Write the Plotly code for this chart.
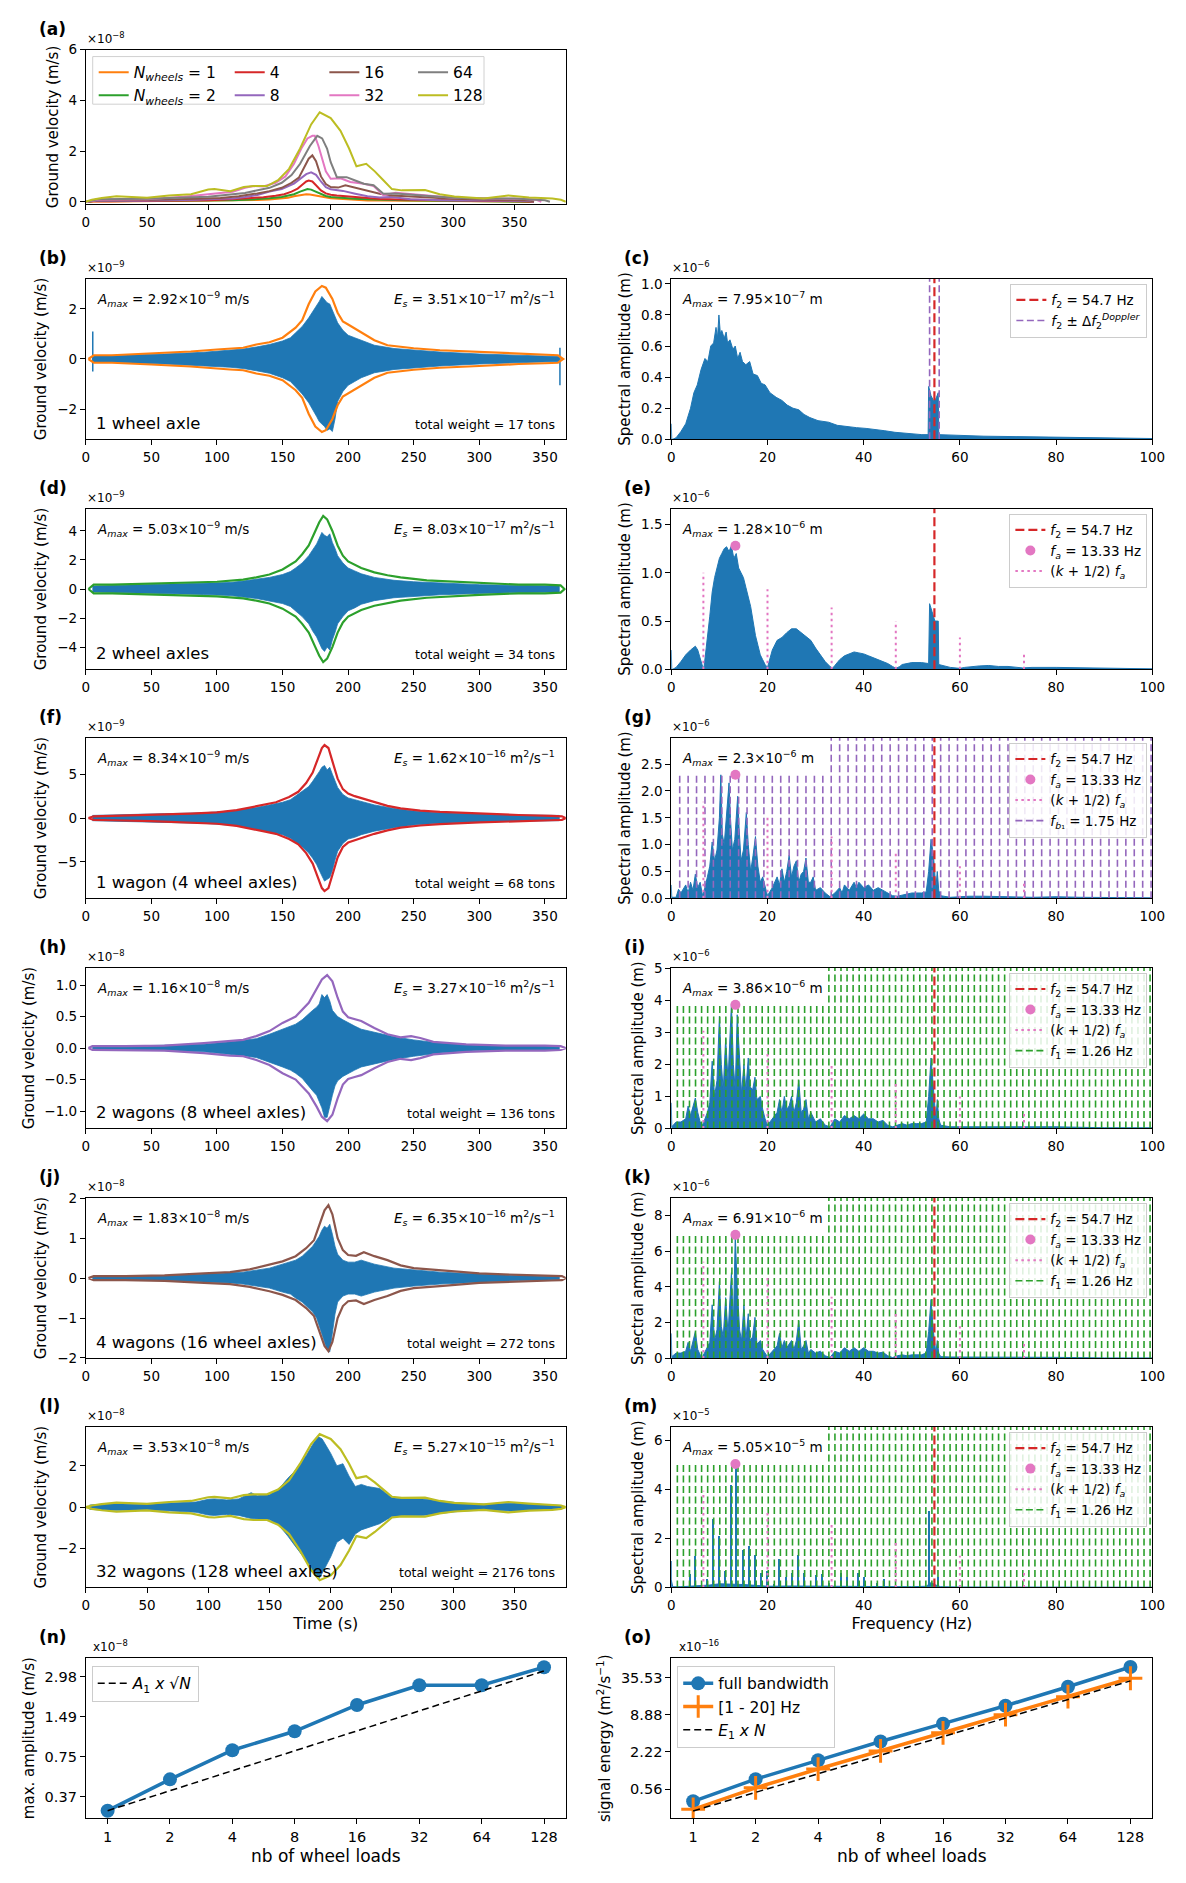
import math
import plotly.graph_objects as go

W, H = 1186, 1883
FONT = "DejaVu Sans"
BLUE = "#1f77b4"; ORANGE = "#ff7f0e"; GREEN = "#2ca02c"; RED = "#d62728"
PURPLE = "#9467bd"; BROWN = "#8c564b"; PINK = "#e377c2"; GRAY = "#7f7f7f"; OLIVE = "#bcbd22"

# ====================== DATA ======================
n_wheels = [1, 2, 4, 8, 16, 32, 64, 128]
n_tick_text = ["1", "2", "4", "8", "16", "32", "64", "128"]

# envelopes (units 1e-8 m/s)
env_t_1 = [2, 6, 20, 50, 80, 100, 110, 120, 130, 140, 150, 160, 165, 170, 175, 180, 183, 188, 192, 196, 200, 210, 220, 230, 240, 250, 270, 300, 330, 350, 360, 364]
env_v_1 = [0, 0.015, 0.015, 0.022, 0.03, 0.038, 0.042, 0.045, 0.058, 0.067, 0.085, 0.125, 0.155, 0.22, 0.27, 0.292, 0.285, 0.24, 0.185, 0.15, 0.138, 0.105, 0.075, 0.055, 0.048, 0.043, 0.035, 0.028, 0.02, 0.017, 0.015, 0]
env_t_2 = [2, 6, 20, 50, 80, 100, 120, 130, 140, 150, 160, 165, 170, 175, 178, 181, 184, 188, 192, 196, 200, 210, 220, 230, 240, 260, 280, 300, 330, 350, 362, 365]
env_v_2 = [0, 0.03, 0.03, 0.035, 0.045, 0.05, 0.065, 0.08, 0.1, 0.135, 0.19, 0.24, 0.3, 0.4, 0.46, 0.503, 0.48, 0.4, 0.3, 0.23, 0.19, 0.145, 0.115, 0.095, 0.08, 0.06, 0.05, 0.04, 0.03, 0.03, 0.025, 0]
env_t_4 = [2, 6, 20, 50, 80, 100, 115, 125, 135, 145, 155, 162, 168, 173, 177, 180, 182, 185, 188, 192, 196, 200, 205, 212, 220, 230, 240, 255, 270, 300, 330, 355, 363, 366]
env_v_4 = [0, 0.02, 0.025, 0.035, 0.05, 0.065, 0.09, 0.12, 0.15, 0.18, 0.24, 0.3, 0.4, 0.52, 0.68, 0.8, 0.834, 0.8, 0.65, 0.45, 0.33, 0.28, 0.25, 0.22, 0.18, 0.14, 0.11, 0.085, 0.07, 0.05, 0.035, 0.025, 0.02, 0]
env_t_8 = [2, 5, 30, 60, 90, 110, 120, 130, 140, 150, 160, 170, 176, 180, 184, 188, 192, 196, 200, 205, 210, 220, 230, 240, 248, 255, 265, 290, 320, 350, 362, 366]
env_v_8 = [0, 0.03, 0.03, 0.04, 0.08, 0.12, 0.13, 0.19, 0.27, 0.4, 0.5, 0.72, 0.93, 1.09, 1.16, 1.06, 0.8, 0.58, 0.49, 0.46, 0.43, 0.32, 0.22, 0.17, 0.19, 0.16, 0.1, 0.06, 0.04, 0.04, 0.03, 0]
env_t_16 = [2, 6, 30, 60, 90, 110, 125, 140, 150, 160, 168, 174, 178, 182, 185, 188, 192, 196, 200, 206, 212, 220, 230, 240, 250, 270, 300, 330, 355, 363, 366]
env_v_16 = [0, 0.05, 0.05, 0.07, 0.12, 0.15, 0.22, 0.33, 0.42, 0.55, 0.75, 0.95, 1.3, 1.7, 1.83, 1.6, 1.0, 0.7, 0.58, 0.56, 0.65, 0.55, 0.45, 0.32, 0.25, 0.2, 0.12, 0.08, 0.06, 0.05, 0]
env_t_32 = [0, 10, 50, 80, 100, 120, 130, 137, 145, 155, 163, 170, 176, 181, 185, 187, 190, 193, 196, 200, 208, 216, 227, 235, 243, 253, 267, 280, 300, 330, 355, 368, 372]
env_v_32 = [0, 0.08, 0.1, 0.2, 0.3, 0.4, 0.55, 0.62, 0.6, 0.75, 1.0, 1.5, 2.1, 2.5, 2.6, 2.6, 2.2, 1.7, 1.2, 0.91, 0.93, 0.78, 0.71, 0.62, 0.26, 0.36, 0.3, 0.22, 0.16, 0.13, 0.12, 0.08, 0]
env_t_64 = [0, 10, 50, 100, 130, 150, 160, 168, 175, 183, 189, 193, 197, 200, 205, 213, 220, 227, 235, 243, 253, 267, 280, 300, 323, 350, 365, 375, 379]
env_v_64 = [0, 0.1, 0.12, 0.2, 0.35, 0.55, 0.75, 1.05, 1.5, 2.2, 2.6, 2.5, 2.1, 1.56, 0.97, 0.97, 0.84, 0.71, 0.65, 0.32, 0.33, 0.29, 0.23, 0.16, 0.13, 0.13, 0.1, 0.06, 0]
env_t_128 = [0, 5, 13, 25, 50, 68, 86, 100, 105, 118, 129, 137, 148, 157, 166, 175, 184, 191, 200, 208, 215, 221, 229, 236, 243, 250, 258, 277, 289, 301, 325, 345, 362, 381, 388, 392]
env_v_128 = [0, 0.08, 0.15, 0.22, 0.16, 0.25, 0.3, 0.48, 0.5, 0.42, 0.58, 0.62, 0.62, 0.85, 1.3, 2.1, 3.05, 3.53, 3.3, 2.8, 2.1, 1.4, 1.5, 1.2, 0.85, 0.5, 0.45, 0.46, 0.3, 0.21, 0.13, 0.25, 0.17, 0.13, 0.08, 0]

# blue signal extents (time panels)
sig_t = [5, 15, 30, 60, 90, 110, 120, 130, 140, 150, 156, 160, 165, 170, 173, 176, 178, 180, 182, 184, 186, 188, 190, 192, 196, 200, 205, 210, 220, 235, 250, 270, 300, 330, 361]
b_top = [0.12, 0.13, 0.15, 0.2, 0.27, 0.35, 0.4, 0.48, 0.58, 0.72, 0.85, 1.05, 1.3, 1.65, 1.9, 2.1, 2.3, 2.5, 2.35, 2.25, 2.2, 1.95, 1.7, 1.45, 1.15, 0.95, 0.85, 0.75, 0.55, 0.42, 0.35, 0.28, 0.2, 0.15, 0.1]
b_bot = [-0.12, -0.13, -0.15, -0.2, -0.27, -0.33, -0.38, -0.47, -0.57, -0.75, -0.9, -1.1, -1.4, -1.75, -2.0, -2.3, -2.5, -2.6, -2.7, -2.85, -2.8, -2.9, -2.4, -1.7, -1.3, -1.05, -0.9, -0.75, -0.55, -0.42, -0.35, -0.28, -0.2, -0.15, -0.1]
d_top = [0.2, 0.22, 0.25, 0.3, 0.38, 0.45, 0.55, 0.65, 0.8, 1.0, 1.2, 1.45, 1.8, 2.3, 2.7, 3.1, 3.5, 3.9, 3.7, 3.6, 3.8, 3.2, 2.8, 2.3, 1.8, 1.45, 1.25, 1.05, 0.8, 0.6, 0.5, 0.4, 0.3, 0.25, 0.2]
d_bot = [-0.2, -0.22, -0.25, -0.3, -0.38, -0.45, -0.55, -0.65, -0.8, -1.0, -1.2, -1.5, -1.9, -2.4, -2.9, -3.3, -3.7, -4.1, -4.3, -4.0, -4.2, -3.5, -3.0, -2.4, -1.9, -1.5, -1.3, -1.05, -0.8, -0.6, -0.5, -0.4, -0.3, -0.25, -0.2]
f_top = [0.3, 0.35, 0.4, 0.5, 0.6, 0.8, 1.0, 1.2, 1.5, 1.8, 2.1, 2.5, 3.0, 3.6, 4.2, 4.8, 5.3, 5.8, 6.0, 5.5, 5.8, 5.0, 4.2, 3.5, 2.7, 2.3, 2.1, 1.9, 1.5, 1.1, 0.8, 0.6, 0.45, 0.35, 0.3]
f_bot = [-0.3, -0.35, -0.4, -0.5, -0.6, -0.8, -1.0, -1.3, -1.6, -1.9, -2.3, -2.7, -3.3, -4.0, -4.6, -5.3, -6.0, -6.6, -7.2, -7.0, -6.8, -6.0, -4.8, -3.8, -2.9, -2.4, -2.2, -1.9, -1.5, -1.1, -0.8, -0.6, -0.45, -0.35, -0.3]
h_top = [0.02, 0.025, 0.03, 0.04, 0.06, 0.1, 0.12, 0.15, 0.22, 0.3, 0.35, 0.38, 0.45, 0.55, 0.6, 0.65, 0.7, 0.85, 0.8, 0.85, 0.75, 0.6, 0.55, 0.5, 0.45, 0.4, 0.35, 0.3, 0.25, 0.18, 0.13, 0.08, 0.04, 0.03, 0.03]
h_bot = [-0.02, -0.025, -0.03, -0.04, -0.06, -0.1, -0.12, -0.15, -0.22, -0.3, -0.35, -0.4, -0.48, -0.6, -0.68, -0.75, -0.85, -0.95, -1.1, -1.1, -0.95, -0.75, -0.6, -0.52, -0.45, -0.4, -0.35, -0.3, -0.25, -0.18, -0.13, -0.08, -0.04, -0.03, -0.03]
j_top = [0.03, 0.04, 0.05, 0.06, 0.1, 0.12, 0.15, 0.2, 0.25, 0.35, 0.4, 0.45, 0.55, 0.7, 0.8, 0.95, 1.05, 1.2, 1.3, 1.25, 1.35, 1.1, 0.8, 0.6, 0.45, 0.4, 0.4, 0.45, 0.35, 0.25, 0.2, 0.15, 0.1, 0.06, 0.04]
j_bot = [-0.03, -0.04, -0.05, -0.06, -0.1, -0.12, -0.15, -0.2, -0.25, -0.35, -0.4, -0.5, -0.6, -0.75, -0.85, -1.0, -1.2, -1.4, -1.6, -1.8, -1.85, -1.4, -0.9, -0.6, -0.45, -0.4, -0.4, -0.45, -0.35, -0.25, -0.2, -0.15, -0.1, -0.06, -0.04]
sig_t_l = [3, 15, 30, 50, 70, 90, 100, 105, 115, 125, 135, 140, 150, 158, 165, 170, 175, 180, 184, 187, 190, 193, 196, 200, 205, 210, 215, 220, 225, 230, 240, 250, 260, 275, 290, 305, 320, 335, 350, 365, 380, 389]
l_top = [0.1, 0.15, 0.15, 0.13, 0.2, 0.25, 0.38, 0.4, 0.35, 0.4, 0.7, 0.55, 0.6, 0.9, 1.4, 1.7, 2.1, 2.5, 2.9, 3.2, 3.4, 3.3, 3.0, 2.6, 2.0, 2.1, 1.5, 1.0, 1.1, 1.0, 0.9, 0.45, 0.4, 0.4, 0.3, 0.2, 0.15, 0.15, 0.2, 0.15, 0.1, 0.08]
l_bot = [-0.1, -0.15, -0.15, -0.13, -0.2, -0.25, -0.38, -0.4, -0.35, -0.4, -0.55, -0.55, -0.6, -0.9, -1.4, -1.8, -2.2, -2.6, -2.9, -3.3, -3.5, -3.2, -2.9, -2.4, -1.7, -1.5, -1.8, -1.3, -1.1, -1.0, -0.8, -0.45, -0.4, -0.4, -0.3, -0.2, -0.15, -0.15, -0.2, -0.15, -0.1, -0.08]
b_spike_t = [5.3, 361.5]
b_spike_top = [1.1, 0.45]
b_spike_bot = [-0.5, -1.05]

# spectra (units of each panel's exponent)
c_f = [0, 0.1, 0.3, 1.0, 2.0, 3.0, 4.0, 4.7, 5.4, 6.2, 7.0, 7.6, 8.2, 8.8, 9.3, 9.6, 9.9, 10.2, 10.5, 11.0, 11.4, 11.7, 12.2, 12.8, 13.3, 13.8, 14.3, 14.8, 15.5, 16.3, 17.0, 17.9, 18.7, 19.5, 20.5, 21.8, 23.0, 24.1, 25.3, 26.5, 27.6, 28.8, 30.5, 32.7, 34.5, 36.6, 38.5, 40.5, 42.5, 44.4, 46.5, 48.2, 50.0, 52.1, 53.4, 53.5, 54.0, 54.5, 55.0, 55.5, 55.6, 57.0, 60.0, 65.0, 70.0, 75.0, 80.0, 85.0, 90.0, 95.0, 100.0]
c_a = [0.1, 0.0, 0.0, 0.01, 0.05, 0.1, 0.2, 0.3, 0.35, 0.45, 0.52, 0.5, 0.6, 0.62, 0.72, 0.65, 0.8, 0.68, 0.7, 0.65, 0.69, 0.62, 0.64, 0.58, 0.6, 0.52, 0.56, 0.5, 0.48, 0.5, 0.42, 0.41, 0.36, 0.35, 0.3, 0.27, 0.25, 0.22, 0.2, 0.19, 0.16, 0.14, 0.12, 0.11, 0.09, 0.08, 0.075, 0.07, 0.06, 0.055, 0.045, 0.04, 0.035, 0.03, 0.03, 0.34, 0.28, 0.25, 0.26, 0.3, 0.03, 0.028, 0.025, 0.02, 0.018, 0.015, 0.013, 0.01, 0.008, 0.007, 0.005]
e_f = [0, 0.1, 0.3, 1, 2, 3, 4, 4.5, 5, 5.5, 6, 6.5, 6.8, 7.5, 8, 8.5, 9, 9.5, 10, 10.5, 11, 11.5, 12, 12.5, 13, 13.5, 14, 14.5, 15, 15.5, 16, 16.5, 17, 17.5, 18, 18.5, 19, 19.5, 20, 21, 22, 23, 24, 25, 26, 27, 28, 29, 30, 31, 32, 33, 33.5, 34, 35, 36, 37, 38, 39, 40, 41, 42, 43, 44, 45, 46, 46.7, 47.5, 48, 50, 52, 53.5, 53.7, 54.2, 54.8, 55.3, 55.5, 55.6, 57, 58, 60, 61, 64, 66, 68, 70, 73, 75, 80, 85, 90, 100]
e_a = [0.2, 0.0, 0.0, 0.02, 0.08, 0.15, 0.2, 0.22, 0.24, 0.2, 0.12, 0.03, 0.02, 0.3, 0.55, 0.8, 0.95, 1.05, 1.15, 1.2, 1.25, 1.27, 1.22, 1.28, 1.15, 1.2, 1.05, 1.0, 0.95, 0.85, 0.75, 0.65, 0.5, 0.35, 0.25, 0.15, 0.1, 0.05, 0.02, 0.2, 0.3, 0.33, 0.38, 0.42, 0.42, 0.38, 0.35, 0.3, 0.22, 0.15, 0.08, 0.03, 0.01, 0.04, 0.1, 0.14, 0.16, 0.18, 0.17, 0.16, 0.14, 0.12, 0.1, 0.08, 0.06, 0.03, 0.01, 0.03, 0.05, 0.07, 0.07, 0.06, 0.68, 0.6, 0.5, 0.5, 0.5, 0.05, 0.03, 0.02, 0.01, 0.02, 0.035, 0.04, 0.03, 0.03, 0.015, 0.02, 0.02, 0.015, 0.01, 0.005]
g_f = [0, 0.1, 1, 1.5, 2, 3, 3.5, 4, 4.5, 5, 5.5, 6, 6.5, 7, 7.5, 8, 8.5, 9, 9.5, 10, 10.3, 10.6, 11, 11.5, 12, 12.3, 12.7, 13.2, 13.8, 14.1, 14.5, 15, 15.6, 16, 16.5, 17, 17.5, 18, 18.5, 19, 19.5, 20, 21, 22, 22.5, 23, 23.5, 24, 24.5, 25, 25.5, 26, 26.5, 27, 27.5, 28, 28.5, 29, 29.5, 30, 31, 32, 33, 34, 35, 35.5, 36, 37, 38, 38.5, 39, 40, 41, 42, 43, 44, 45, 46, 47, 48, 49, 50, 51, 52, 53, 53.5, 54, 54.5, 55, 55.3, 55.6, 56, 58, 60, 62, 65, 68, 70, 75, 80, 85, 90, 100]
g_a = [0.25, 0.02, 0.02, 0.17, 0.1, 0.25, 0.1, 0.3, 0.15, 0.45, 0.2, 0.3, 0.05, 0.2, 0.4, 0.6, 1.05, 0.7, 0.9, 1.5, 2.3, 1.2, 1.0, 1.5, 2.15, 1.5, 0.9, 1.1, 1.9, 1.3, 0.7, 0.9, 1.6, 1.0, 0.5, 0.8, 1.15, 0.6, 0.3, 0.4, 0.2, 0.05, 0.2, 0.4, 0.25, 0.55, 0.3, 0.5, 0.8, 0.4, 0.6, 0.7, 0.3, 0.45, 0.5, 0.75, 0.3, 0.3, 0.4, 0.15, 0.2, 0.1, 0.03, 0.1, 0.2, 0.1, 0.25, 0.15, 0.3, 0.2, 0.3, 0.2, 0.25, 0.15, 0.2, 0.15, 0.1, 0.05, 0.04, 0.06, 0.08, 0.1, 0.1, 0.1, 0.12, 0.5, 1.1, 0.8, 0.2, 0.5, 0.15, 0.05, 0.02, 0.03, 0.04, 0.04, 0.04, 0.03, 0.02, 0.03, 0.02, 0.015, 0.01]
i_f = [0, 0.1, 1, 2, 3, 3.5, 4, 5, 5.5, 6, 6.5, 7, 7.5, 8, 8.5, 9, 9.5, 10, 10.4, 10.8, 11.3, 11.8, 12.5, 12.9, 13.3, 13.7, 14.2, 14.6, 15.1, 15.5, 16, 16.4, 16.9, 17.4, 17.8, 18.5, 19, 19.5, 20, 21, 22, 22.5, 23, 23.5, 24, 24.5, 25, 25.5, 26, 26.5, 27, 27.5, 28, 28.5, 29, 30, 31, 32, 33, 34, 35, 36, 37, 38, 39, 40, 41, 42, 43, 44, 45, 46, 47, 48, 49, 50, 51, 52, 53, 53.5, 54, 54.5, 55, 55.3, 55.6, 56, 58, 60, 65, 70, 80, 90, 100]
i_a = [0.8, 0.05, 0.2, 0.2, 0.3, 0.7, 0.4, 0.95, 0.5, 0.2, 0.1, 0.3, 0.5, 0.8, 2.1, 1.0, 1.5, 3.5, 2.0, 1.2, 2.8, 1.5, 3.9, 2.0, 1.2, 3.55, 2.0, 1.1, 2.0, 1.2, 2.2, 1.3, 1.2, 1.6, 0.9, 1.0, 0.6, 0.3, 0.1, 0.3, 0.5, 0.9, 0.5, 1.0, 0.6, 0.7, 1.0, 0.5, 0.8, 1.5, 0.5, 0.6, 0.9, 0.3, 0.5, 0.2, 0.3, 0.1, 0.05, 0.3, 0.2, 0.4, 0.3, 0.4, 0.3, 0.45, 0.3, 0.3, 0.2, 0.25, 0.1, 0.05, 0.1, 0.15, 0.1, 0.15, 0.15, 0.15, 0.2, 1.0, 2.2, 1.2, 0.3, 0.9, 0.3, 0.1, 0.05, 0.05, 0.05, 0.05, 0.05, 0.02, 0.02]
k_f = [0, 0.1, 1, 2, 3, 3.5, 4, 5, 5.5, 6, 6.5, 7, 7.5, 8, 8.5, 9, 9.5, 10, 10.4, 10.8, 11.3, 11.8, 12.5, 12.9, 13.3, 13.7, 14.2, 14.6, 15.1, 15.5, 16, 16.4, 16.9, 17.4, 17.8, 18.5, 19, 19.5, 20, 21, 22, 22.5, 23, 23.5, 24, 24.5, 25, 25.5, 26, 26.5, 27, 27.5, 28, 28.5, 29, 30, 31, 32, 33, 34, 35, 36, 37, 38, 39, 40, 41, 42, 43, 44, 45, 46, 47, 48, 49, 50, 51, 52, 53, 53.5, 54, 54.5, 55, 55.3, 55.6, 56, 58, 60, 65, 70, 80, 90, 100]
k_a = [1.4, 0.1, 0.3, 0.3, 0.4, 0.9, 0.4, 1.5, 0.5, 0.2, 0.1, 0.4, 0.6, 0.9, 3.0, 1.0, 1.6, 4.3, 1.8, 1.2, 3.4, 1.4, 4.8, 1.8, 6.91, 4.0, 1.6, 1.0, 3.0, 1.0, 2.5, 1.0, 1.2, 2.3, 0.8, 1.0, 0.5, 0.3, 0.1, 0.4, 0.7, 1.4, 0.6, 1.0, 0.6, 0.8, 1.0, 0.5, 1.0, 2.1, 0.5, 0.7, 1.0, 0.3, 0.5, 0.3, 0.4, 0.15, 0.05, 0.4, 0.3, 0.6, 0.4, 0.6, 0.4, 0.6, 0.4, 0.4, 0.3, 0.35, 0.15, 0.05, 0.15, 0.2, 0.15, 0.2, 0.2, 0.2, 0.3, 1.5, 3.3, 1.5, 0.3, 1.0, 0.3, 0.1, 0.08, 0.08, 0.08, 0.08, 0.06, 0.03, 0.03]
m_base_f = [0, 0.3, 2, 4, 6, 8, 10, 12, 15, 18, 20, 25, 30, 40, 50, 53, 54, 55, 56, 60, 80, 100]
m_base_a = [0.3, 0.03, 0.03, 0.05, 0.07, 0.1, 0.15, 0.15, 0.12, 0.08, 0.05, 0.06, 0.05, 0.04, 0.03, 0.05, 0.2, 0.1, 0.03, 0.02, 0.01, 0.01]
m_spk_f = [0.1, 4.0, 5.0, 7.5, 8.8, 10.0, 11.3, 12.6, 13.6, 15.0, 16.3, 17.5, 18.8, 20.1, 21.4, 22.6, 24.0, 25.2, 26.4, 27.7, 30.2, 31.5, 32.8, 35.3, 36.7, 39.0, 40.2, 42.8, 44.3, 53.7, 55.6]
m_spk_a = [1.1, 0.55, 1.3, 0.35, 2.8, 2.1, 0.7, 4.2, 5.0, 1.55, 1.7, 1.35, 0.6, 0.7, 0.15, 1.15, 0.45, 0.6, 1.35, 0.6, 0.5, 0.55, 0.2, 0.6, 0.45, 0.6, 0.45, 0.2, 0.35, 3.15, 0.45]

f2_hz = 54.7
fa_hz = 13.33
doppler_f = [53.7, 55.7]
kfa_f = [6.67, 20.0, 33.33, 46.67, 60.0, 73.33]
kfa_h_e = [1.0, 0.83, 0.64, 0.5, 0.33, 0.17]
kfa_h_g = [1.8, 1.5, 1.15, 0.87, 0.6, 0.3]
kfa_h_i = [3.05, 2.45, 1.95, 1.45, 1.0, 0.5]
kfa_h_k = [5.4, 4.5, 3.45, 2.7, 1.8, 0.9]
kfa_h_m = [3.95, 3.2, 2.55, 1.95, 1.3, 0.65]
fb1_lines = [1.75, 3.5, 5.25, 7.0, 8.75, 10.5, 12.25, 14.0, 15.75, 17.5, 19.25, 21.0, 22.75, 24.5, 26.25, 28.0, 29.75, 31.5, 33.25, 35.0, 36.75, 38.5, 40.25, 42.0, 43.75, 45.5, 47.25, 49.0, 50.75, 52.5, 54.25, 56.0, 57.75, 59.5, 61.25, 63.0, 64.75, 66.5, 68.25, 70.0, 71.75, 73.5, 75.25, 77.0, 78.75, 80.5, 82.25, 84.0, 85.75, 87.5, 89.25, 91.0, 92.75, 94.5, 96.25, 98.0, 99.75]
f1_lines = [1.26, 2.52, 3.78, 5.04, 6.3, 7.56, 8.82, 10.08, 11.34, 12.6, 13.86, 15.12, 16.38, 17.64, 18.9, 20.16, 21.42, 22.68, 23.94, 25.2, 26.46, 27.72, 28.98, 30.24, 31.5, 32.76, 34.02, 35.28, 36.54, 37.8, 39.06, 40.32, 41.58, 42.84, 44.1, 45.36, 46.62, 47.88, 49.14, 50.4, 51.66, 52.92, 54.18, 55.44, 56.7, 57.96, 59.22, 60.48, 61.74, 63.0, 64.26, 65.52, 66.78, 68.04, 69.3, 70.56, 71.82, 73.08, 74.34, 75.6, 76.86, 78.12, 79.38, 80.64, 81.9, 83.16, 84.42, 85.68, 86.94, 88.2, 89.46, 90.72, 91.98, 93.24, 94.5, 95.76, 97.02, 98.28, 99.54]

amax_n = [0.292, 0.503, 0.834, 1.16, 1.83, 2.58, 2.58, 3.53]            # x1e-8
amax_sqrt_model = [0.292, 0.413, 0.584, 0.826, 1.168, 1.652, 2.336, 3.304]
energy_full = [0.351, 0.803, 1.62, 3.27, 6.35, 12.4, 25.2, 52.7]        # x1e-16
energy_band = [0.26, 0.58, 1.17, 2.3, 4.52, 8.88, 17.4, 34.6]
energy_lin_model = [0.245, 0.49, 0.98, 1.96, 3.92, 7.84, 15.68, 31.36]

# ====================== LAYOUT ======================
LX = (83, 570)
RX = (677, 1165)
A_Y = (42, 198)
ROWS = [(273, 435), (505, 667), (736, 898), (968, 1130), (1200, 1362), (1431, 1593), (1664, 1826)]

fig = go.Figure()
layout = dict(width=W, height=H, margin=dict(l=0, r=0, t=0, b=0),
              paper_bgcolor="white", plot_bgcolor="white", showlegend=True,
              font=dict(family=FONT, size=13, color="black"))
annotations = []
shapes = []

AX = dict(showline=True, linecolor="black", linewidth=1, mirror=True, ticks="outside",
          ticklen=5, tickwidth=1, tickcolor="black", showgrid=False, zeroline=False,
          tickfont=dict(family=FONT, size=13.5, color="black"))


def add_axes(i, xb, yb, xr, yr, xtv, xtt, ytv, ytt, xtitle=None, ytitle=None, xtype="linear", ytype="linear",
             tick_size=13.5, xtitle_size=16):
    xs = "xaxis" if i == 1 else f"xaxis{i}"
    ys = "yaxis" if i == 1 else f"yaxis{i}"
    xid = "x" if i == 1 else f"x{i}"
    yid = "y" if i == 1 else f"y{i}"
    ax = dict(AX)
    ax["tickfont"] = dict(family=FONT, size=tick_size, color="black")
    layout[xs] = dict(domain=[xb[0] / W, xb[1] / W], anchor=yid, range=xr, type=xtype,
                      tickmode="array", tickvals=xtv, ticktext=xtt, **ax)
    layout[ys] = dict(domain=[1 - yb[1] / H, 1 - yb[0] / H], anchor=xid, range=yr, type=ytype,
                      tickmode="array", tickvals=ytv, ticktext=ytt, **ax)
    if xtitle:
        layout[xs]["title"] = dict(text=xtitle, font=dict(family=FONT, size=xtitle_size, color="black"), standoff=6)
    if ytitle:
        layout[ys]["title"] = dict(text=ytitle, font=dict(family=FONT, size=15, color="black"), standoff=6)
    return xid, yid


def ann(text, xid, yid, x, y, xa, ya, size=13, xs=0, ys=0):
    annotations.append(dict(text=text, xref=f"{xid} domain", yref=f"{yid} domain", x=x, y=y,
                            xanchor=xa, yanchor=ya, xshift=xs, yshift=ys, showarrow=False,
                            font=dict(family=FONT, size=size, color="black")))


def panel_label(letter, xid, yid, offset, off_shift=-1):
    ann(f"<b>({letter})</b>", xid, yid, 0, 1, "left", "middle", 17, -49, 21)
    ann(offset, xid, yid, 0, 1, "left", "bottom", 12, off_shift, 2)


def tl(v):
    return [str(x).replace("-", "\u2212") for x in v]


time_ticks = [0, 50, 100, 150, 200, 250, 300, 350]
freq_ticks = [0, 20, 40, 60, 80, 100]
SUPM = lambda e: f"\u00d710<sup>\u2212{e}</sup>"

# ---------- (a) ----------
xa, ya = add_axes(1, LX, A_Y, [0, 392], [-0.1, 6], time_ticks, tl(time_ticks), [0, 2, 4, 6], ["0", "2", "4", "6"],
                  ytitle="Ground velocity (m/s)")
panel_label("a", xa, ya, SUPM(8))
a_series = [
    (env_t_1, env_v_1, ORANGE, "<i>N</i><sub><i>wheels</i></sub> = 1", "legend"),
    (env_t_2, env_v_2, GREEN, "<i>N</i><sub><i>wheels</i></sub> = 2", "legend"),
    (env_t_4, env_v_4, RED, "4", "legend2"),
    (env_t_8, env_v_8, PURPLE, "8", "legend2"),
    (env_t_16, env_v_16, BROWN, "16", "legend3"),
    (env_t_32, env_v_32, PINK, "32", "legend3"),
    (env_t_64, env_v_64, GRAY, "64", "legend4"),
    (env_t_128, env_v_128, OLIVE, "128", "legend4"),
]
for t, v, c, name, lg in a_series:
    fig.add_trace(go.Scatter(x=t, y=v, mode="lines", line=dict(color=c, width=2), name=name,
                             legend=lg, xaxis=xa, yaxis=ya, showlegend=True))
leg_a_common = dict(yanchor="top", xanchor="left", bgcolor="rgba(0,0,0,0)", borderwidth=0,
                    font=dict(family=FONT, size=15.5, color="black"), tracegroupgap=0, itemwidth=30)
for key, xpx in [("legend", 91), ("legend2", 229), ("legend3", 325), ("legend4", 415)]:
    layout[key] = dict(x=xpx / W, y=1 - 48 / H, **leg_a_common)
shapes.append(dict(type="rect", xref="paper", yref="paper", x0=90 / W, x1=487 / W, y0=1 - 97 / H, y1=1 - 49 / H,
                   line=dict(color="#d0d0d0", width=1), fillcolor="rgba(255,255,255,0.8)", layer="below"))

# ---------- time-domain panels ----------
time_panels = [
    ("b", 2, ROWS[0], 366, 3.212, [-2, 0, 2], tl([-2, 0, 2]), sig_t, b_top, b_bot, env_t_1, env_v_1, 10, ORANGE,
     SUPM(9), "2.92\u00d710<sup>\u22129</sup>", "3.51\u00d710<sup>\u221217</sup>", "1 wheel axle", "17"),
    ("d", 4, ROWS[1], 366, 5.533, [-4, -2, 0, 2, 4], tl([-4, -2, 0, 2, 4]), sig_t, d_top, d_bot, env_t_2, env_v_2, 10, GREEN,
     SUPM(9), "5.03\u00d710<sup>\u22129</sup>", "8.03\u00d710<sup>\u221217</sup>", "2 wheel axles", "34"),
    ("f", 6, ROWS[2], 366, 9.174, [-5, 0, 5], tl([-5, 0, 5]), sig_t, f_top, f_bot, env_t_4, env_v_4, 10, RED,
     SUPM(9), "8.34\u00d710<sup>\u22129</sup>", "1.62\u00d710<sup>\u221216</sup>", "1 wagon (4 wheel axles)", "68"),
    ("h", 8, ROWS[3], 366, 1.276, [-1, -0.5, 0, 0.5, 1], ["\u22121.0", "\u22120.5", "0.0", "0.5", "1.0"], sig_t, h_top, h_bot, env_t_8, env_v_8, 1, PURPLE,
     SUPM(8), "1.16\u00d710<sup>\u22128</sup>", "3.27\u00d710<sup>\u221216</sup>", "2 wagons (8 wheel axles)", "136"),
    ("j", 10, ROWS[4], 366, 2.013, [-2, -1, 0, 1, 2], tl([-2, -1, 0, 1, 2]), sig_t, j_top, j_bot, env_t_16, env_v_16, 1, BROWN,
     SUPM(8), "1.83\u00d710<sup>\u22128</sup>", "6.35\u00d710<sup>\u221216</sup>", "4 wagons (16 wheel axles)", "272"),
    ("l", 12, ROWS[5], 392, 3.883, [-2, 0, 2], tl([-2, 0, 2]), sig_t_l, l_top, l_bot, env_t_128, env_v_128, 1, OLIVE,
     SUPM(8), "3.53\u00d710<sup>\u22128</sup>", "5.27\u00d710<sup>\u221215</sup>", "32 wagons (128 wheel axles)", "2176"),
]
for (let, idx, yb, xmax, ylim, ytv, ytt, st, top, bot, et, ev, scale, col, off, amax, es, case, weight) in time_panels:
    xid, yid = add_axes(idx, LX, yb, [0, xmax], [-ylim, ylim], time_ticks, tl(time_ticks), ytv, ytt,
                        xtitle="Time (s)" if let == "l" else None, ytitle="Ground velocity (m/s)")
    panel_label(let, xid, yid, off)
    fig.add_trace(go.Scatter(x=st + st[::-1], y=top + bot[::-1], fill="toself", fillcolor=BLUE, mode="lines",
                             line=dict(color=BLUE, width=0.8), showlegend=False, xaxis=xid, yaxis=yid))
    if let == "b":
        xs, ysv = [], []
        for t, u, d in zip(b_spike_t, b_spike_top, b_spike_bot):
            xs += [t, t, None]
            ysv += [d, u, None]
        fig.add_trace(go.Scatter(x=xs, y=ysv, mode="lines", line=dict(color=BLUE, width=1.5),
                                 showlegend=False, xaxis=xid, yaxis=yid))
    up = [v * scale for v in ev]
    fig.add_trace(go.Scatter(x=et + et[::-1], y=up + [-v for v in up[::-1]], mode="lines",
                             line=dict(color=col, width=2.2), showlegend=False, xaxis=xid, yaxis=yid))
    ann(f"<i>A</i><sub><i>max</i></sub> = {amax} m/s", xid, yid, 0, 1, "left", "top", 13.5, 9, -8)
    ann(f"<i>E</i><sub><i>s</i></sub> = {es} m<sup>2</sup>/s<sup>\u22121</sup>", xid, yid, 1, 1, "right", "top", 13.5, -9, -8)
    ann(case, xid, yid, 0, 0, "left", "bottom", 16.5, 8, 4)
    ann(f"total weight = {weight} tons", xid, yid, 1, 0, "right", "bottom", 12.5, -9, 5)


# ---------- spectral panels ----------
def vlines(xvals, heights):
    xs, ys = [], []
    for xv, hv in zip(xvals, heights):
        xs += [xv, xv, None]
        ys += [0, hv, None]
    return xs, ys


spec_panels = [
    ("c", 3, ROWS[0], 1.0335, [0, 0.2, 0.4, 0.6, 0.8, 1.0], ["0.0", "0.2", "0.4", "0.6", "0.8", "1.0"], SUPM(6),
     "7.95\u00d710<sup>\u22127</sup>", None, None, None, None, None),
    ("e", 5, ROWS[1], 1.664, [0, 0.5, 1.0, 1.5], ["0.0", "0.5", "1.0", "1.5"], SUPM(6),
     "1.28\u00d710<sup>\u22126</sup>", 1.28, kfa_h_e, None, None, None),
    ("g", 7, ROWS[2], 2.99, [0, 0.5, 1.0, 1.5, 2.0, 2.5], ["0.0", "0.5", "1.0", "1.5", "2.0", "2.5"], SUPM(6),
     "2.3\u00d710<sup>\u22126</sup>", 2.3, kfa_h_g, fb1_lines, PURPLE, "<i>f</i><sub><i>b</i>\u2081</sub> = 1.75 Hz"),
    ("i", 9, ROWS[3], 5.018, [0, 1, 2, 3, 4, 5], ["0", "1", "2", "3", "4", "5"], SUPM(6),
     "3.86\u00d710<sup>\u22126</sup>", 3.86, kfa_h_i, f1_lines, GREEN, "<i>f</i><sub>1</sub> = 1.26 Hz"),
    ("k", 11, ROWS[4], 8.983, [0, 2, 4, 6, 8], ["0", "2", "4", "6", "8"], SUPM(6),
     "6.91\u00d710<sup>\u22126</sup>", 6.91, kfa_h_k, f1_lines, GREEN, "<i>f</i><sub>1</sub> = 1.26 Hz"),
    ("m", 13, ROWS[5], 6.565, [0, 2, 4, 6], ["0", "2", "4", "6"], SUPM(5),
     "5.05\u00d710<sup>\u22125</sup>", 5.05, kfa_h_m, f1_lines, GREEN, "<i>f</i><sub>1</sub> = 1.26 Hz"),
]
spec_data = {"c": (c_f, c_a, None, None), "e": (e_f, e_a, None, None), "g": (g_f, g_a, None, None),
             "i": (i_f, i_a, None, None), "k": (k_f, k_a, None, None),
             "m": (m_base_f, m_base_a, m_spk_f, m_spk_a)}
legend_num = 5
for (let, idx, yb, ymax, ytv, ytt, off, amax_txt, amax_v, kfa_h, comb, comb_col, comb_name) in spec_panels:
    xid, yid = add_axes(idx, RX, yb, [0, 100], [0, ymax], freq_ticks, tl(freq_ticks), ytv, ytt,
                        xtitle="Frequency (Hz)" if let == "m" else None, ytitle="Spectral amplitude (m)")
    panel_label(let, xid, yid, off)
    lg = f"legend{legend_num}"
    legend_num += 1
    sf, sa, kf, ka = spec_data[let]
    fig.add_trace(go.Scatter(x=sf, y=sa, mode="lines", fill="tozeroy", fillcolor=BLUE,
                             line=dict(color=BLUE, width=1), showlegend=False, xaxis=xid, yaxis=yid))
    if kf is not None:
        fig.add_trace(go.Bar(x=kf, y=ka, width=0.3, marker=dict(color=BLUE, line=dict(width=0)),
                             showlegend=False, xaxis=xid, yaxis=yid))
    if comb is not None:
        heights = [amax_v if fv < 31.8 else ymax for fv in comb]
        cx, cy = vlines(comb, heights)
        fig.add_trace(go.Scatter(x=cx, y=cy, mode="lines", line=dict(color=comb_col, width=1.6, dash="7px,3.5px"),
                                 name=comb_name, legend=lg, legendrank=4, xaxis=xid, yaxis=yid))
    if let == "c":
        dx, dy = vlines(doppler_f, [ymax, ymax])
        fig.add_trace(go.Scatter(x=dx, y=dy, mode="lines", line=dict(color=PURPLE, width=1.6, dash="7px,3.5px"),
                                 name="<i>f</i><sub>2</sub> \u00b1 \u0394<i>f</i><sub>2</sub><sup><i>Doppler</i></sup>",
                                 legend=lg, legendrank=2, xaxis=xid, yaxis=yid))
    if kfa_h is not None:
        px_, py_ = vlines(kfa_f, kfa_h)
        fig.add_trace(go.Scatter(x=px_, y=py_, mode="lines", line=dict(color=PINK, width=2, dash="2.5px,3.5px"),
                                 name="(<i>k</i> + 1/2) <i>f</i><sub><i>a</i></sub>", legend=lg, legendrank=3,
                                 xaxis=xid, yaxis=yid))
    rx, ry = vlines([f2_hz], [ymax])
    fig.add_trace(go.Scatter(x=rx, y=ry, mode="lines", line=dict(color=RED, width=2.2, dash="9px,4px"),
                             name="<i>f</i><sub>2</sub> = 54.7 Hz", legend=lg, legendrank=1, xaxis=xid, yaxis=yid))
    if amax_v is not None:
        fig.add_trace(go.Scatter(x=[fa_hz], y=[amax_v], mode="markers", marker=dict(color=PINK, size=10),
                                 name="<i>f</i><sub><i>a</i></sub> = 13.33 Hz", legend=lg, legendrank=2,
                                 xaxis=xid, yaxis=yid))
    ann(f"<i>A</i><sub><i>max</i></sub> = {amax_txt} m", xid, yid, 0, 1, "left", "top", 13.5, 9, -8)
    layout[lg] = dict(x=(RX[1] - 5) / W, y=1 - (yb[0] + 5) / H, xanchor="right", yanchor="top",
                      bgcolor="rgba(255,255,255,0.85)", bordercolor="#cccccc", borderwidth=1,
                      font=dict(family=FONT, size=13.5, color="black"), tracegroupgap=0, itemwidth=30)

# ---------- (n) ----------
xr_log = [math.log10(2 ** -0.35), math.log10(2 ** 7.35)]
xn, yn = add_axes(14, LX, ROWS[6], xr_log, [math.log10(0.255), math.log10(4.15)], n_wheels, n_tick_text,
                  [0.3725, 0.745, 1.49, 2.98], ["0.37", "0.75", "1.49", "2.98"],
                  xtitle="nb of wheel loads", ytitle="max. amplitude (m/s)", xtype="log", ytype="log",
                  tick_size=14.5, xtitle_size=17)
panel_label("n", xn, yn, "x10<sup>\u22128</sup>", 5)
fig.add_trace(go.Scatter(x=n_wheels, y=amax_n, mode="lines+markers", line=dict(color=BLUE, width=3.5),
                         marker=dict(color=BLUE, size=14), showlegend=False, xaxis=xn, yaxis=yn))
fig.add_trace(go.Scatter(x=n_wheels, y=amax_sqrt_model, mode="lines", line=dict(color="black", width=1.5, dash="7px,4px"),
                         name="<i>A</i><sub>1</sub> <i>x</i> \u221a<i>N</i>", legend="legend11", xaxis=xn, yaxis=yn))
layout["legend11"] = dict(x=(LX[0] + 6) / W, y=1 - (ROWS[6][0] + 8) / H, xanchor="left", yanchor="top",
                          bgcolor="rgba(255,255,255,0.85)", bordercolor="#cccccc", borderwidth=1,
                          font=dict(family=FONT, size=15.5, color="black"), itemwidth=30)

# ---------- (o) ----------
xo, yo = add_axes(15, RX, ROWS[6], xr_log, [math.log10(0.185), math.log10(74.0)], n_wheels, n_tick_text,
                  [0.555, 2.22, 8.88, 35.53], ["0.56", "2.22", "8.88", "35.53"],
                  xtitle="nb of wheel loads", ytitle="signal energy (m<sup>2</sup>/s<sup>\u22121</sup>)",
                  xtype="log", ytype="log", tick_size=14.5, xtitle_size=17)
panel_label("o", xo, yo, "x10<sup>\u221216</sup>", 6)
fig.add_trace(go.Scatter(x=n_wheels, y=energy_full, mode="lines+markers", line=dict(color=BLUE, width=3.5),
                         marker=dict(color=BLUE, size=14), name="full bandwidth", legend="legend12",
                         xaxis=xo, yaxis=yo))
fig.add_trace(go.Scatter(x=n_wheels, y=energy_band, mode="lines+markers", line=dict(color=ORANGE, width=3.5),
                         marker=dict(color=ORANGE, size=17, symbol="cross-thin", line=dict(color=ORANGE, width=3)),
                         name="[1 - 20] Hz", legend="legend12", xaxis=xo, yaxis=yo))
fig.add_trace(go.Scatter(x=n_wheels, y=energy_lin_model, mode="lines", line=dict(color="black", width=1.5, dash="7px,4px"),
                         name="<i>E</i><sub>1</sub> <i>x N</i>", legend="legend12", xaxis=xo, yaxis=yo))
layout["legend12"] = dict(x=(RX[0] + 6) / W, y=1 - (ROWS[6][0] + 8) / H, xanchor="left", yanchor="top",
                          bgcolor="rgba(255,255,255,0.85)", bordercolor="#cccccc", borderwidth=1,
                          font=dict(family=FONT, size=15.5, color="black"), tracegroupgap=0, itemwidth=30)

layout["annotations"] = annotations
layout["shapes"] = shapes
layout["bargap"] = 0
fig.update_layout(**layout)
fig.write_html("out.html")
